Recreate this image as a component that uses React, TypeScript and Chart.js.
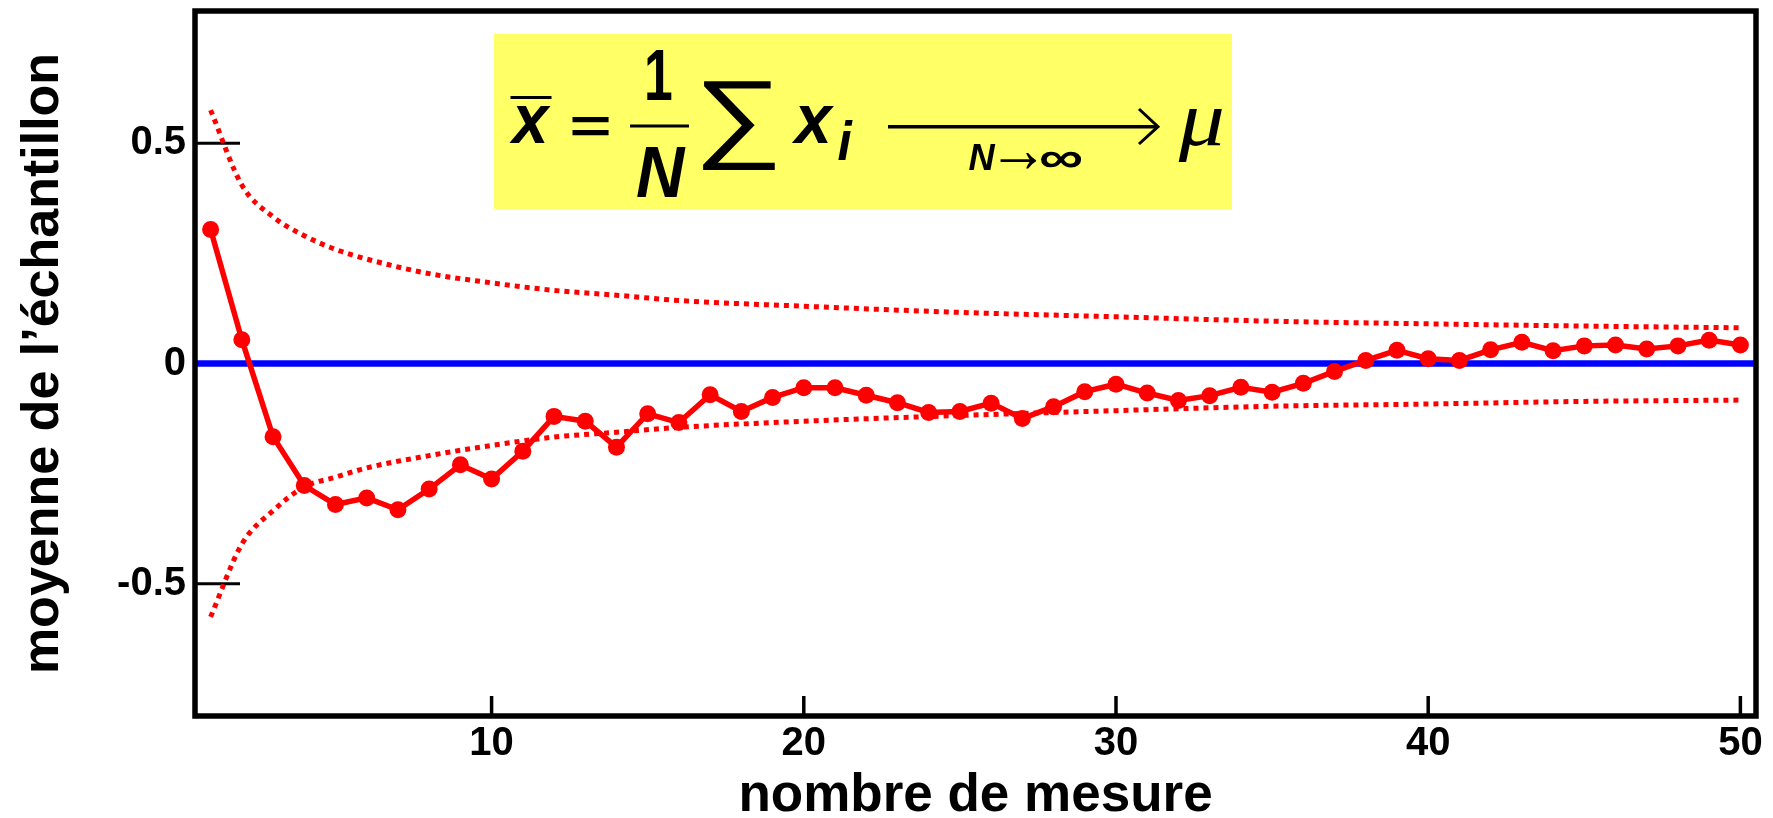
import React, { useEffect, useRef } from 'react';
import { Chart, registerables } from 'chart.js';

Chart.register(...registerables);

// Measurement index (number of measurements taken so far)
const N_MEASURES = [
  1, 2, 3, 4, 5, 6, 7, 8, 9, 10,
  11, 12, 13, 14, 15, 16, 17, 18, 19, 20,
  21, 22, 23, 24, 25, 26, 27, 28, 29, 30,
  31, 32, 33, 34, 35, 36, 37, 38, 39, 40,
  41, 42, 43, 44, 45, 46, 47, 48, 49, 50,
];

// Running sample mean after N measurements
const SAMPLE_MEAN = [
  0.304, 0.054, -0.166, -0.277, -0.320, -0.305, -0.332, -0.285, -0.230, -0.262,
  -0.199, -0.120, -0.131, -0.190, -0.114, -0.134, -0.071, -0.109, -0.077, -0.055,
  -0.055, -0.072, -0.089, -0.111, -0.109, -0.090, -0.125, -0.098, -0.064, -0.047,
  -0.067, -0.084, -0.073, -0.054, -0.065, -0.045, -0.018, 0.007, 0.030, 0.011,
  0.007, 0.031, 0.048, 0.029, 0.040, 0.042, 0.033, 0.040, 0.053, 0.042,
];

// Envelope of the expected spread (sigma / sqrt(N)) sampled along N
const BOUND_N = [1, 2, 3, 4, 5, 6, 8, 10, 12, 14, 16, 20, 25, 30, 35, 40, 45, 50];
const UPPER_BOUND = [0.575, 0.405, 0.333, 0.290, 0.259, 0.237, 0.204, 0.183, 0.166, 0.155, 0.143, 0.130, 0.116, 0.106, 0.096, 0.090, 0.085, 0.081];
const LOWER_BOUND = [-0.575, -0.410, -0.334, -0.280, -0.258, -0.237, -0.209, -0.186, -0.167, -0.156, -0.145, -0.131, -0.118, -0.107, -0.097, -0.092, -0.086, -0.083];

// True mean mu
const TRUE_MEAN = 0;

// Axes
const X_MIN = 0.5;
const X_MAX = 50.5;
const Y_MIN = -0.8;
const Y_MAX = 0.8;
const X_TICKS = [10, 20, 30, 40, 50];
const X_TICK_LABELS = ['10', '20', '30', '40', '50'];
const Y_TICKS = [-0.5, 0, 0.5];
const Y_TICK_LABELS = ['-0.5', '0', '0.5'];

const X_TITLE = 'nombre de mesure';
const Y_TITLE = 'moyenne de l\u2019échantillon';

const SANS = '"Liberation Sans", Arial, Helvetica, sans-serif';
const SERIF = '"Liberation Serif", "Times New Roman", serif';

// Draw a string so that its ink fits exactly into the box [x0, y0, x1, y1]
function fitText(
  ctx: CanvasRenderingContext2D,
  text: string,
  style: string,
  family: string,
  box: [number, number, number, number]
) {
  const base = 100;
  ctx.textAlign = 'left';
  ctx.textBaseline = 'alphabetic';
  ctx.font = `${style} ${base}px ${family}`;
  const m = ctx.measureText(text);
  const inkH = m.actualBoundingBoxAscent + m.actualBoundingBoxDescent;
  const size = (base * (box[3] - box[1])) / inkH;
  ctx.font = `${style} ${size}px ${family}`;
  const m2 = ctx.measureText(text);
  const inkW = m2.actualBoundingBoxLeft + m2.actualBoundingBoxRight;
  const sx = (box[2] - box[0]) / inkW;
  ctx.save();
  ctx.translate(box[0], box[1] + m2.actualBoundingBoxAscent);
  ctx.scale(sx, 1);
  ctx.fillText(text, m2.actualBoundingBoxLeft, 0);
  ctx.restore();
}

// Yellow panel with the law of large numbers
function drawFormula(ctx: CanvasRenderingContext2D) {
  ctx.save();
  ctx.fillStyle = '#ffff66';
  ctx.fillRect(494, 34, 738, 175);
  ctx.fillStyle = '#000000';
  ctx.strokeStyle = '#000000';

  // x-bar
  fitText(ctx, 'x', 'italic bold', SANS, [508.5, 106, 551, 144]);
  ctx.fillRect(510.5, 96, 41, 3);
  // =
  fitText(ctx, '=', 'bold', SANS, [571, 117, 609, 135]);
  // 1 / N
  fitText(ctx, '1', 'bold', SANS, [647, 49.5, 671.5, 99]);
  ctx.fillRect(630, 124.5, 59, 3);
  fitText(ctx, 'N', 'italic bold', SANS, [637, 147, 686, 197]);
  // sum
  fitText(ctx, '\u2211', '', SANS, [702.5, 81, 775, 170.5]);
  // x_i
  fitText(ctx, 'x', 'italic bold', SANS, [791, 106, 834.5, 144]);
  fitText(ctx, 'i', 'italic bold', SANS, [837.5, 119.5, 853, 160.5]);

  // limit arrow
  ctx.lineWidth = 3.5;
  ctx.lineCap = 'butt';
  ctx.beginPath();
  ctx.moveTo(888, 126.7);
  ctx.lineTo(1156, 126.7);
  ctx.stroke();
  ctx.lineWidth = 3;
  ctx.beginPath();
  ctx.moveTo(1139, 109);
  ctx.lineTo(1158, 126.7);
  ctx.lineTo(1139, 144);
  ctx.stroke();

  // N -> infinity
  fitText(ctx, 'N', 'italic bold', SANS, [968.5, 144, 995.5, 169]);
  fitText(ctx, '\u2192', 'bold', SANS, [1000, 152, 1037, 168]);
  fitText(ctx, '\u221E', 'bold', SANS, [1040, 150.5, 1081.5, 167]);

  // mu
  fitText(ctx, '\u03BC', 'italic', SERIF, [1177.5, 108.5, 1222.5, 160.5]);
  ctx.restore();
}

const framePlugin = {
  id: 'frameAndMarks',
  beforeDatasetsDraw(chart: any) {
    const { ctx, chartArea, scales } = chart;
    const xs = scales.x;
    const ys = scales.y;
    ctx.save();
    ctx.strokeStyle = '#000000';
    ctx.lineCap = 'butt';
    // inward tick marks on the y axis
    ctx.lineWidth = 3;
    Y_TICKS.forEach((v) => {
      const y = ys.getPixelForValue(v);
      ctx.beginPath();
      ctx.moveTo(chartArea.left, y);
      ctx.lineTo(chartArea.left + 45, y);
      ctx.stroke();
    });
    // inward tick marks on the x axis
    ctx.lineWidth = 3.5;
    X_TICKS.forEach((v) => {
      const x = xs.getPixelForValue(v);
      ctx.beginPath();
      ctx.moveTo(x, chartArea.bottom);
      ctx.lineTo(x, chartArea.bottom - 20);
      ctx.stroke();
    });
    ctx.restore();
  },
  afterDatasetsDraw(chart: any) {
    const { ctx, chartArea } = chart;
    ctx.save();
    ctx.strokeStyle = '#000000';
    ctx.lineWidth = 5.5;
    ctx.strokeRect(
      chartArea.left,
      chartArea.top,
      chartArea.right - chartArea.left,
      chartArea.bottom - chartArea.top
    );
    ctx.restore();
  },
  afterDraw(chart: any) {
    drawFormula(chart.ctx);
  },
};

export default function App() {
  const canvasRef = useRef<HTMLCanvasElement | null>(null);

  useEffect(() => {
    const canvas = canvasRef.current;
    if (!canvas) return;

    const meanPoints = SAMPLE_MEAN.map((y, i) => ({ x: N_MEASURES[i], y }));
    const upperPoints = UPPER_BOUND.map((y, i) => ({ x: BOUND_N[i], y }));
    const lowerPoints = LOWER_BOUND.map((y, i) => ({ x: BOUND_N[i], y }));
    const zeroPoints = [
      { x: X_MIN, y: TRUE_MEAN },
      { x: X_MAX, y: TRUE_MEAN },
    ];

    const chart = new Chart(canvas, {
      type: 'line',
      data: {
        datasets: [
          {
            label: 'moyenne',
            data: meanPoints,
            borderColor: '#ff0000',
            backgroundColor: '#ff0000',
            borderWidth: 5.5,
            pointRadius: 8.5,
            pointBorderWidth: 0,
            pointBackgroundColor: '#ff0000',
            tension: 0,
            order: 0,
          },
          {
            label: '+sigma',
            data: upperPoints,
            borderColor: '#ff0000',
            borderWidth: 5,
            borderDash: [5, 5],
            borderCapStyle: 'butt',
            pointRadius: 0,
            cubicInterpolationMode: 'monotone',
            order: 1,
          },
          {
            label: '-sigma',
            data: lowerPoints,
            borderColor: '#ff0000',
            borderWidth: 5,
            borderDash: [5, 5],
            borderCapStyle: 'butt',
            pointRadius: 0,
            cubicInterpolationMode: 'monotone',
            order: 1,
          },
          {
            label: 'mu',
            data: zeroPoints,
            borderColor: '#0000ff',
            borderWidth: 6.5,
            pointRadius: 0,
            order: 2,
          },
        ],
      } as any,
      options: {
        animation: false,
        responsive: false,
        devicePixelRatio: 1,
        events: [],
        layout: { padding: { left: 0, top: 11, right: 17, bottom: 0 } },
        plugins: {
          legend: { display: false },
          tooltip: { enabled: false },
        },
        scales: {
          x: {
            type: 'linear',
            min: X_MIN,
            max: X_MAX,
            grid: { display: false, drawTicks: false },
            border: { display: false },
            afterBuildTicks: (s: any) => {
              s.ticks = X_TICKS.map((v) => ({ value: v }));
            },
            afterFit: (s: any) => {
              s.height = 102;
              s.paddingLeft = 0;
              s.paddingRight = 0;
            },
            ticks: {
              autoSkip: false,
              maxRotation: 0,
              padding: 4,
              color: '#000000',
              font: { family: SANS, size: 40, weight: 'bold' },
              callback: (v: any) => {
                const i = X_TICKS.indexOf(Number(v));
                return i >= 0 ? X_TICK_LABELS[i] : '';
              },
            },
            title: {
              display: true,
              text: X_TITLE,
              color: '#000000',
              font: { family: SANS, size: 53, weight: 'bold', lineHeight: 0.8 },
              padding: { top: 0, bottom: 0 },
            },
          },
          y: {
            type: 'linear',
            min: Y_MIN,
            max: Y_MAX,
            grid: { display: false, drawTicks: false },
            border: { display: false },
            afterBuildTicks: (s: any) => {
              s.ticks = Y_TICKS.map((v) => ({ value: v }));
            },
            afterFit: (s: any) => {
              s.width = 195;
              s.paddingTop = 0;
              s.paddingBottom = 0;
            },
            ticks: {
              padding: 9,
              color: '#000000',
              font: { family: SANS, size: 40, weight: 'bold' },
              callback: (v: any) => {
                const i = Y_TICKS.indexOf(Number(v));
                return i >= 0 ? Y_TICK_LABELS[i] : '';
              },
            },
            title: {
              display: true,
              text: Y_TITLE,
              color: '#000000',
              font: { family: SANS, size: 52, weight: 'bold', lineHeight: 0.8 },
              padding: { top: 23, bottom: 0 },
            },
          },
        },
      } as any,
      plugins: [framePlugin],
    });

    return () => chart.destroy();
  }, []);

  return (
    <div
      style={{
        position: 'absolute',
        left: 0,
        top: 0,
        width: 1773,
        height: 818,
        background: '#ffffff',
      }}
    >
      <canvas
        ref={canvasRef}
        width={1773}
        height={818}
        style={{ display: 'block', width: 1773, height: 818 }}
      />
    </div>
  );
}
